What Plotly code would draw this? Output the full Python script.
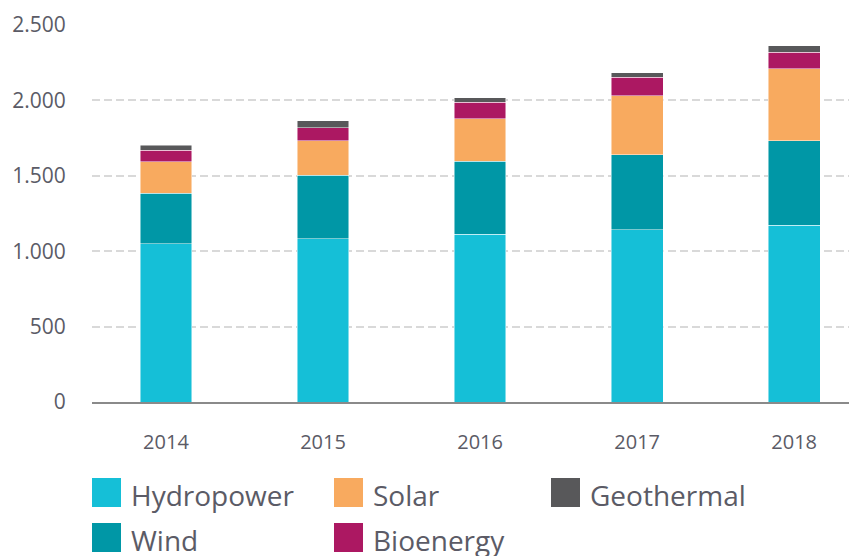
import plotly.graph_objects as go

years = [2014, 2015, 2016, 2017, 2018]
series_names = ["Hydropower", "Wind", "Solar", "Bioenergy", "Geothermal"]
hydropower = [1051, 1082, 1111, 1142, 1171]
wind = [334, 422, 487, 498, 560]
solar = [208, 227, 282, 391, 480]
bioenergy = [76, 89, 109, 122, 109]
geothermal = [33, 44, 27, 29, 44]
colors = ["#15BFD7", "#0097A6", "#F8AA5F", "#AC1862", "#58585A"]
y_ticks = [0, 500, 1000, 1500, 2000, 2500]

values = [hydropower, wind, solar, bioenergy, geothermal]

# page body has an 8px margin; work in screen pixels
OFF = 8
SCREEN_W, SCREEN_H = 857, 556
PLOT_LEFT, PLOT_RIGHT, PLOT_TOP, PLOT_BOTTOM = 92, 857, 25, 402
pw, ph = PLOT_RIGHT - PLOT_LEFT, PLOT_BOTTOM - PLOT_TOP
W, H = SCREEN_W - OFF, SCREEN_H - OFF

def px(x):
    return (x - PLOT_LEFT) / pw

def py(y):
    return (PLOT_BOTTOM - y) / ph

TEXT = "#5b5b66"
FONT = "Open Sans"

fig = go.Figure()
for name, vals, col in zip(series_names, values, colors):
    fig.add_trace(go.Bar(
        x=years, y=vals, name=name, marker_color=col,
        marker_line_color="rgba(255,255,255,0.6)", marker_line_width=0.8,
        width=0.33, showlegend=False,
    ))

# manual legend (3 columns x 2 rows)
legend_pos = {
    "Hydropower": (92, 478),
    "Solar": (334, 478),
    "Geothermal": (551, 478),
    "Wind": (92, 523),
    "Bioenergy": (334, 523),
}
SW = 29
for name, col in zip(series_names, colors):
    x0, y0 = legend_pos[name]
    fig.add_shape(type="rect", xref="paper", yref="paper",
                  x0=px(x0), x1=px(x0 + SW), y0=py(y0), y1=py(y0 + SW),
                  fillcolor=col, line_width=0)
    fig.add_annotation(xref="paper", yref="paper", x=px(x0 + 37), y=py(y0 + SW / 2 + 2),
                       text=name, showarrow=False, xanchor="left", yanchor="middle",
                       font=dict(size=28, color=TEXT, family=FONT))

fig.update_layout(
    width=W, height=H,
    margin=dict(l=PLOT_LEFT - OFF, r=SCREEN_W - PLOT_RIGHT, t=PLOT_TOP - OFF,
                b=H - (PLOT_BOTTOM - OFF)),
    barmode="stack",
    plot_bgcolor="white", paper_bgcolor="white",
    separators=",.",
    font=dict(family=FONT, color=TEXT),
)
fig.update_xaxes(
    range=[2013.529, 2018.40], tickvals=years, ticktext=[str(y) for y in years],
    showgrid=False, showline=True, linecolor="#8a8a8a", linewidth=2,
    layer="below traces", ticks="outside", ticklen=21, tickcolor="rgba(0,0,0,0)",
    tickfont=dict(size=20, color=TEXT), zeroline=False,
)
fig.update_yaxes(
    range=[0, 2500], tickvals=y_ticks, tickformat=",d",
    showgrid=True, gridcolor="#d9d9d9", gridwidth=1.5, griddash="8px,4px",
    zeroline=False, ticks="outside", ticklen=21, tickcolor="rgba(0,0,0,0)",
    tickfont=dict(size=21, color=TEXT),
)

fig.write_html("out.html")
